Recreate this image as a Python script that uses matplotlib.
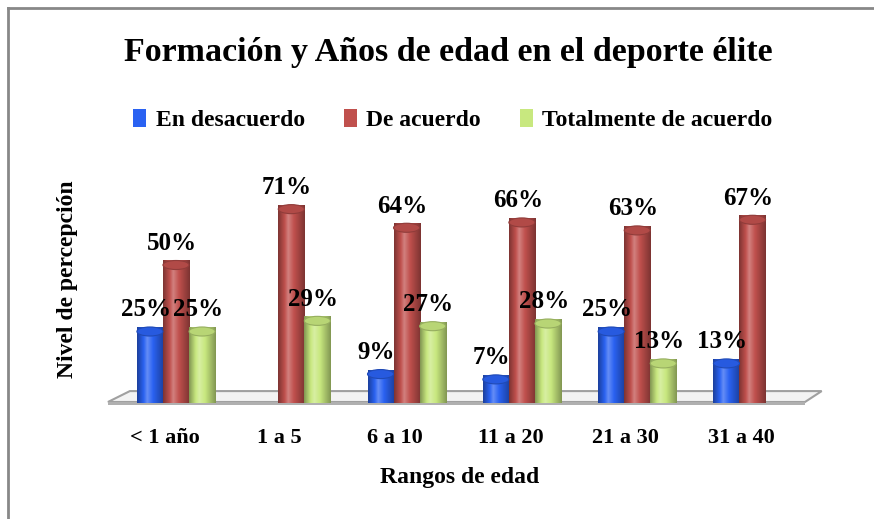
import numpy as np
import matplotlib.pyplot as plt
from matplotlib.patches import Ellipse, Polygon, Patch
from matplotlib.lines import Line2D

categorias = ['< 1 año', '1 a 5', '6 a 10', '11 a 20', '21 a 30', '31 a 40']
series = ['En desacuerdo', 'De acuerdo', 'Totalmente de acuerdo']
en_desacuerdo = [25, 0, 9, 7, 25, 13]
de_acuerdo = [50, 71, 64, 66, 63, 67]
totalmente = [25, 29, 27, 28, 13, 0]

colores = ['#2a62f2', '#c0504d', '#c8e87f']
valores = [en_desacuerdo, de_acuerdo, totalmente]

fuente = 'Liberation Serif'

fig = plt.figure(figsize=(8.74, 5.19), dpi=100)
ax = fig.add_axes([100 / 874, (519 - 398) / 519, 730 / 874, 199.5 / 519])
ax.set_xlim(-0.659, 5.672)
ax.set_ylim(0, 75)
ax.axis('off')

ancho = 0.226
eh = 3.4   # alto de la elipse (unidades de datos)


def mezcla(c, otro, t):
    return c * (1 - t) + np.array(otro) * t


def cilindro(xc, h, color):
    c = np.array(plt.matplotlib.colors.to_rgb(color))
    # cuerpo
    t = np.linspace(np.pi, 2 * np.pi, 40)
    xs = list(xc + ancho / 2 * np.cos(t))
    ys = list(eh / 2 * np.sin(t))
    t2 = np.linspace(0, np.pi, 40)
    xs += list(xc + ancho / 2 * np.cos(t2))
    ys += list(h + eh / 2 * np.sin(t2))
    cuerpo = Polygon(np.column_stack([xs, ys]), closed=True, facecolor='none',
                     edgecolor='none', clip_on=False)
    ax.add_patch(cuerpo)
    n = 64
    u = np.linspace(0, 1, n)
    grad = []
    for v in u:
        d = (v - 0.38)
        if d < 0:
            k = -d / 0.38
        else:
            k = d / 0.62
        if k < 0.35:
            col = mezcla(c, (1, 1, 1), 0.28 * (1 - k / 0.35))
        else:
            col = mezcla(c, (0, 0, 0), 0.35 * (k - 0.35) / 0.65)
        grad.append(col)
    img = np.array(grad)[None, :, :]
    im = ax.imshow(img, extent=(xc - ancho / 2, xc + ancho / 2, -eh / 2, h + eh / 2),
                   aspect='auto', interpolation='bilinear', zorder=3, clip_on=False)
    im.set_clip_path(cuerpo)
    # tapa
    tapa = Ellipse((xc, h), ancho, eh, facecolor=mezcla(c, (0, 0, 0), 0.08),
                   edgecolor=mezcla(c, (0, 0, 0), 0.25), linewidth=0.8, zorder=4,
                   clip_on=False)
    ax.add_patch(tapa)


# piso
piso = Polygon([(-0.59, -1.5), (5.455, -1.5), (5.60, 2.6), (-0.40, 2.6)], closed=True,
               facecolor='#f3f3f3', edgecolor='#a0a0a0', linewidth=1.5, zorder=1,
               clip_on=False)
ax.add_patch(piso)
ax.add_patch(Polygon([(-0.59, -1.5), (5.455, -1.5), (5.455, -2.5), (-0.59, -2.5)],
                     closed=True, facecolor='#b0b0b0', edgecolor='none', zorder=1,
                     clip_on=False))

offsets = [-ancho, 0, ancho]
for s, vals in enumerate(valores):
    for i, v in enumerate(vals):
        if v == 0:
            continue
        xc = i + offsets[s]
        cilindro(xc, v, colores[s])
        ax.annotate(f'{v}%', (xc, v + eh / 2), xytext=(-3, 4), textcoords='offset points',
                    ha='center', va='bottom', fontsize=18, fontweight='bold',
                    family=fuente, zorder=5, annotation_clip=False)

# etiquetas del eje x
for i, cat in enumerate(categorias):
    ax.text(i - 0.1, -15, cat, ha='center', va='center', fontsize=16,
            fontweight='bold', family=fuente)

fig.text(460 / 874, 1 - 478 / 519, 'Rangos de edad', ha='center', va='center',
         fontsize=17, fontweight='bold', family=fuente)
fig.text(68 / 874, 1 - 279 / 519, 'Nivel de percepción', ha='center', va='center',
         rotation=90, fontsize=17, fontweight='bold', family=fuente)
fig.text(448 / 874, 1 - 52 / 519, 'Formación y Años de edad en el deporte élite',
         ha='center', va='center', fontsize=24.5, fontweight='bold', family=fuente)

handles = [Patch(facecolor=c, edgecolor='none') for c in colores]
fig.legend(handles, series, loc='center', bbox_to_anchor=(453 / 874, 1 - 120 / 519),
           ncol=3, frameon=False, handlelength=0.55, handleheight=0.8, handletextpad=0.4,
           columnspacing=1.65, prop={'family': fuente, 'weight': 'bold', 'size': 17})

# marco
fig.add_artist(Line2D([8 / 874, 8 / 874], [0, 1 - 8 / 519], transform=fig.transFigure,
                      color='#888888', linewidth=2))
fig.add_artist(Line2D([8 / 874, 1], [1 - 8 / 519, 1 - 8 / 519], transform=fig.transFigure,
                      color='#888888', linewidth=2))

fig.savefig('out.png', dpi=100)
